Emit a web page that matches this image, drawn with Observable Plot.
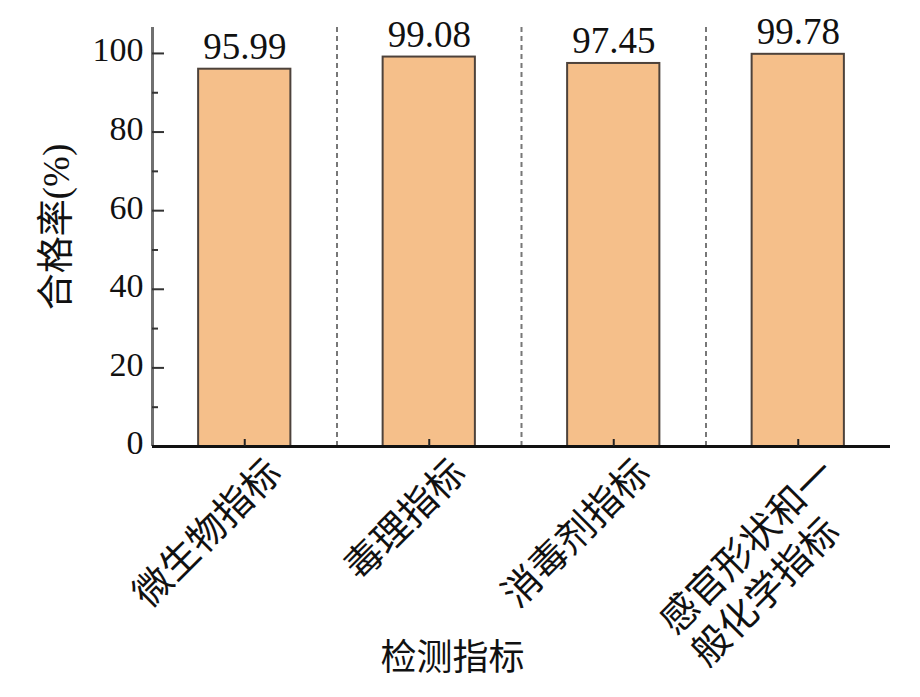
<!DOCTYPE html>
<html>
<head>
<meta charset="utf-8">
<script src="https://cdn.jsdelivr.net/npm/d3@7"></script>
<script src="https://cdn.jsdelivr.net/npm/@observablehq/plot@0.6"></script>
<style>
  html, body { margin: 0; padding: 0; background: #fff; }
</style>
</head>
<body>
<div id="chart"></div>
<script>
// ---- data ----
const categories = ["微生物指标", "毒理指标", "消毒剂指标", "感官形状和一\n般化学指标"];
const values = [95.99, 99.08, 97.45, 99.78];
const yTicks = [0, 20, 40, 60, 80, 100];
const yMinorTicks = [10, 30, 50, 70, 90];
const yTitle = "合格率(%)";
const xTitle = "检测指标";

// ---- layout ----
const W = 920, H = 697;
const mL = 152, mR = 30, mT = 27, mB = 251;
const plotW = W - mL - mR, plotH = H - mT - mB;
const step = plotW / categories.length;
const serif = "'Liberation Serif', 'Noto Sans CJK SC', serif";
const labelSize = 38, labelLH = 45;
const labelDx = 30, labelDy = 20;

const table = categories.map((c, i) => ({cat: c, value: values[i]}));
const firstLines = categories.map(c => ({cat: c, line: c.split("\n")[0]}));
const c45 = Math.SQRT1_2;

// second lines: start-aligned with first lines
const secondLineMarks = categories
  .filter(c => c.includes("\n"))
  .map(c => {
    const [l1, l2] = c.split("\n");
    const back = (l1.length - l2.length) * labelSize;
    return Plot.text([{cat: c, line: l2}], {
      x: "cat", y: 0, text: "line", rotate: -45, textAnchor: "end",
      fontSize: labelSize, fill: "#111",
      dx: labelDx - back * c45 + labelLH * c45,
      dy: labelDy + back * c45 + labelLH * c45
    });
  });

const chart = Plot.plot({
  width: W, height: H,
  marginLeft: mL, marginRight: mR, marginTop: mT, marginBottom: mB,
  style: {fontFamily: serif, background: "#fff", color: "#111", overflow: "visible"},
  x: {domain: categories, paddingInner: 0.5, paddingOuter: 0.25, round: false, axis: null},
  y: {domain: [0, 106.6], axis: null},
  marks: [
    // dashed separators between categories
    Plot.ruleX(categories.slice(0, -1), {x: d => d, dx: step / 2, stroke: "#777", strokeWidth: 2, strokeDasharray: "5,4"}),
    // bars
    Plot.barY(table, {x: "cat", y: "value", fill: "#F5BF8A", stroke: "#4d423b", strokeWidth: 2}),
    // value labels
    Plot.text(table, {x: "cat", y: "value", text: d => d.value.toFixed(2), lineAnchor: "bottom", dy: -10, fontSize: 37, fill: "#111"}),
    // y axis line
    Plot.ruleX([categories[0]], {x: d => d, dx: -step / 2, stroke: "#707070", strokeWidth: 3}),
    // y ticks (inward)
    Plot.ruleY(yTicks, {y: d => d, insetRight: plotW - 12, stroke: "#333", strokeWidth: 2}),
    Plot.ruleY(yMinorTicks, {y: d => d, insetRight: plotW - 6, stroke: "#333", strokeWidth: 2}),
    // y tick labels
    Plot.text(yTicks, {y: d => d, text: d => String(d), frameAnchor: "left", dx: -9, dy: -3, textAnchor: "end", fontSize: 34, fill: "#111"}),
    // x axis line
    Plot.ruleY([0], {stroke: "#111", strokeWidth: 3}),
    // x ticks (inward)
    Plot.ruleX(categories, {x: d => d, insetTop: plotH - 7, stroke: "#222", strokeWidth: 2}),
    // x tick labels
    Plot.text(firstLines, {x: "cat", y: 0, text: "line", rotate: -45, textAnchor: "end", dx: labelDx, dy: labelDy, fontSize: labelSize, fill: "#111"}),
    ...secondLineMarks,
    // axis titles
    Plot.text([yTitle], {text: d => d, frameAnchor: "left", textAnchor: "middle", rotate: -90, dx: -95, dy: -10, fontSize: 37, fill: "#111"}),
    Plot.text([xTitle], {text: d => d, frameAnchor: "bottom-left", textAnchor: "middle", dx: 300, dy: 223, fontSize: 36, fill: "#111"})
  ]
});
document.getElementById("chart").appendChild(chart);
</script>
</body>
</html>
